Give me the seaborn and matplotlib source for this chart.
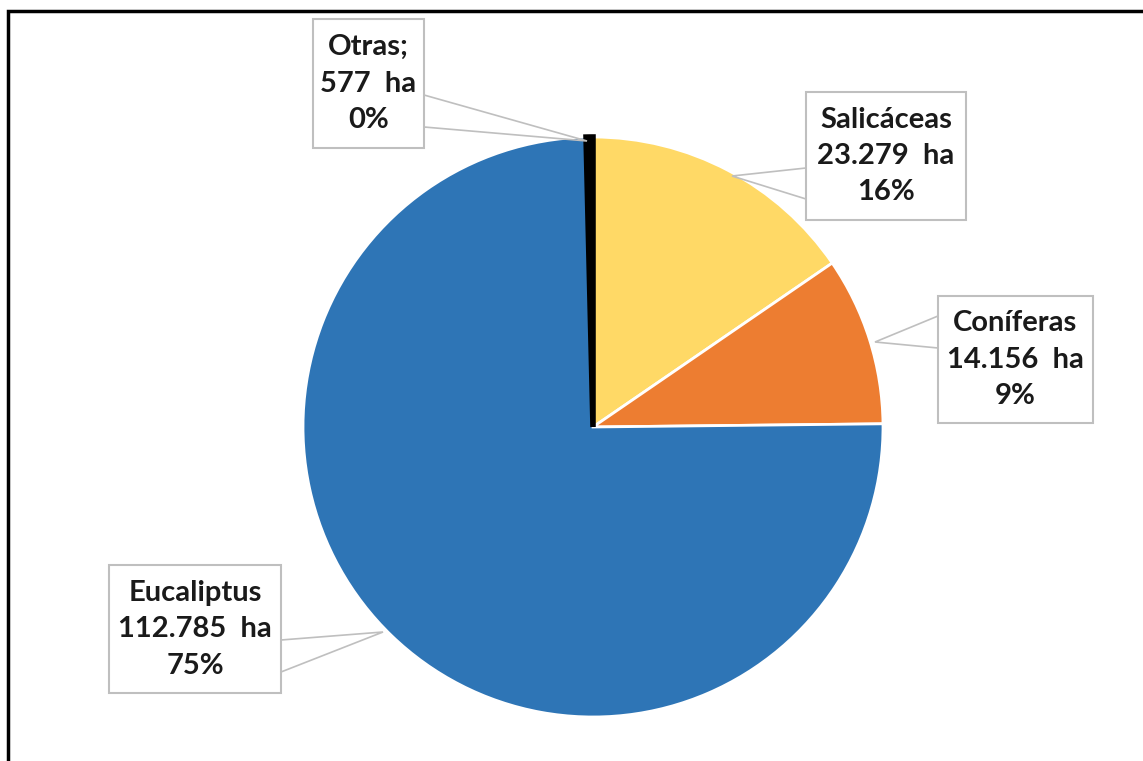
import matplotlib.pyplot as plt
import seaborn as sns
from matplotlib.patches import Rectangle

sns.set_style("white")
plt.rcParams['font.family'] = ['Lato', 'DejaVu Sans']

# data (ha)
species = ['Salicáceas', 'Coníferas', 'Eucaliptus', 'Otras']
hectares = [23279, 14156, 112785, 577]
area_labels = ['23.279  ha', '14.156  ha', '112.785  ha', '577  ha']
pct_labels = ['16%', '9%', '75%', '0%']
colors = ['#FFD966', '#ED7D31', '#2E75B6', '#000000']

W, H = 1143, 761
fig = plt.figure(figsize=(W / 100, H / 100), dpi=100)
ax = fig.add_axes([0, 0, 1, 1])


def yy(y):
    # image y (top-down) -> axes y
    return H - y


wedges, _ = ax.pie(hectares, colors=colors, startangle=90, counterclock=False,
                   center=(593, yy(427)), radius=290,
                   wedgeprops=dict(edgecolor='white', linewidth=2))
wedges[-1].set_edgecolor('black')
wedges[-1].set_linewidth(4)
for w in wedges:
    w.set_zorder(2)

# pie() resets limits, so set the pixel frame afterwards
ax.set_xlim(0, W)
ax.set_ylim(0, H)
ax.set_aspect('equal')
ax.axis('off')

# label boxes: (left, top, right, bottom), pointer side, attach ys on box side, anchor point
boxes = [
    ((806, 92, 966, 220), 'left', (168, 199), (732, 176)),
    ((938, 296, 1093, 423), 'left', (316, 348), (875, 342)),
    ((109, 565, 281, 693), 'right', (640, 672), (383, 632)),
    ((313, 19, 424, 148), 'right', (95, 127), (587, 141)),
]
line1 = ['Salicáceas', 'Coníferas', 'Eucaliptus', 'Otras;']

for i, ((l, t, r, b), side, (ya, yb), (ax_, ay_)) in enumerate(boxes):
    bx = l if side == 'left' else r
    ax.plot([bx, ax_, bx], [yy(ya), yy(ay_), yy(yb)], color='#BFBFBF', lw=1.2,
            zorder=3, solid_joinstyle='miter')
    ax.add_patch(Rectangle((l, yy(b)), r - l, b - t, facecolor='white',
                           edgecolor='#BFBFBF', lw=1.5, zorder=4))
    cx = (l + r) / 2
    cy = (t + b) / 2
    txt = f"{line1[i]}\n{area_labels[i]}\n{pct_labels[i]}"
    ax.text(cx, yy(cy), txt, ha='center', va='center', fontsize=21,
            fontweight='bold', color='#1A1A1A', linespacing=1.5, zorder=5)

# outer frame
ax.add_patch(Rectangle((8, -20), W + 40, yy(11) + 20, facecolor='none',
                       edgecolor='black', lw=2.5, zorder=6))

fig.savefig('out.png', dpi=100)
